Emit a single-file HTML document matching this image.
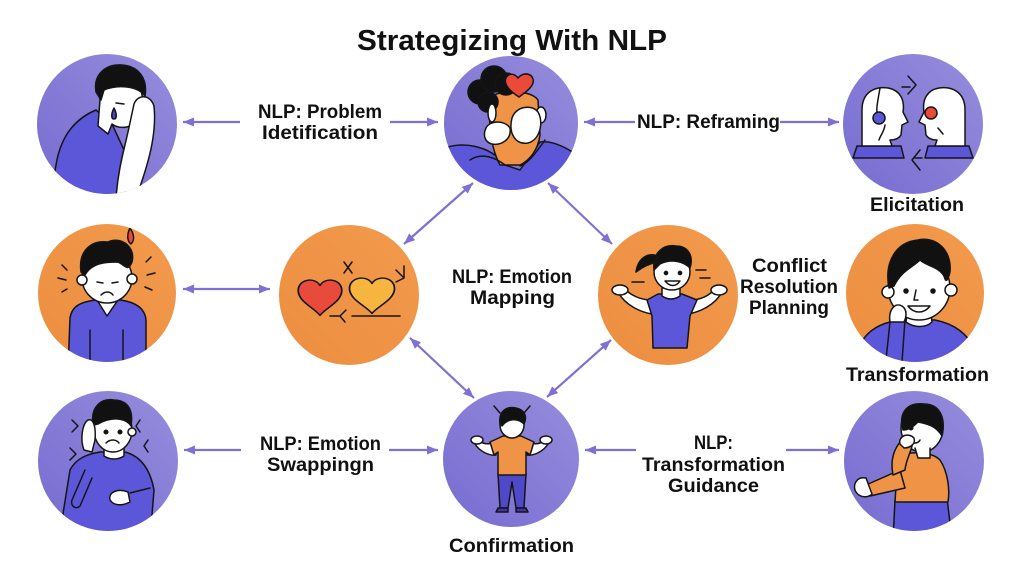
<!DOCTYPE html>
<html><head><meta charset="utf-8"><style>
html,body{margin:0;padding:0;background:#fff;}
svg{display:block}
text{font-family:"Liberation Sans",sans-serif;font-weight:bold;fill:#111;font-size:19px;}
.s path,.s ellipse,.s circle,.s rect,.s polyline,.s line{stroke:#151515;stroke-width:1.5;stroke-linejoin:round;stroke-linecap:round}
.ar{stroke:#7f71d4;stroke-width:2.2;fill:none}
</style></head><body>
<svg width="1024" height="576" viewBox="0 0 1024 576" xmlns="http://www.w3.org/2000/svg">
<defs>
<linearGradient id="pg" x1="1" y1="0" x2="0" y2="1"><stop offset="0" stop-color="#968ddd"/><stop offset="1" stop-color="#776cd0"/></linearGradient>
<linearGradient id="og" x1="1" y1="0" x2="0" y2="1"><stop offset="0" stop-color="#f29a4d"/><stop offset="1" stop-color="#ec8e40"/></linearGradient>
<marker id="ah" markerUnits="userSpaceOnUse" markerWidth="12" markerHeight="10" refX="11" refY="5" orient="auto-start-reverse"><path d="M0,0.5 L11,5 L0,9.5 Z" fill="#7f71d4"/></marker>
<clipPath id="c1"><circle cx="107" cy="124" r="70"/></clipPath>
<clipPath id="c2"><circle cx="511" cy="123" r="67"/></clipPath>
<clipPath id="c3"><circle cx="913" cy="124" r="70"/></clipPath>
<clipPath id="c4"><circle cx="107" cy="293" r="69"/></clipPath>
<clipPath id="c6"><circle cx="668" cy="295" r="70"/></clipPath>
<clipPath id="c7"><circle cx="915" cy="293" r="69"/></clipPath>
<clipPath id="c8"><circle cx="108" cy="461" r="70"/></clipPath>
<clipPath id="c9"><circle cx="511" cy="459" r="68"/></clipPath>
<clipPath id="c10"><circle cx="914" cy="461" r="70"/></clipPath>
</defs>

<!-- Title -->
<text x="357" y="50" style="font-size:29px" textLength="310" lengthAdjust="spacingAndGlyphs">Strategizing With NLP</text>

<!-- Circles -->
<circle cx="107" cy="124" r="70" fill="url(#pg)"/>
<circle cx="511" cy="123" r="67" fill="url(#pg)"/>
<circle cx="913" cy="124" r="70" fill="url(#pg)"/>
<circle cx="107" cy="293" r="69" fill="url(#og)"/>
<circle cx="349" cy="295" r="70" fill="url(#og)"/>
<circle cx="668" cy="295" r="70" fill="url(#og)"/>
<circle cx="915" cy="293" r="69" fill="url(#og)"/>
<circle cx="108" cy="461" r="70" fill="url(#pg)"/>
<circle cx="511" cy="459" r="68" fill="url(#pg)"/>
<circle cx="914" cy="461" r="70" fill="url(#pg)"/>

<!-- Arrows -->
<line class="ar" x1="240" y1="122" x2="183" y2="122" marker-end="url(#ah)"/>
<line class="ar" x1="390" y1="122" x2="438" y2="122" marker-end="url(#ah)"/>
<line class="ar" x1="635" y1="122" x2="584" y2="122" marker-end="url(#ah)"/>
<line class="ar" x1="780" y1="122" x2="839" y2="122" marker-end="url(#ah)"/>
<line class="ar" x1="404" y1="244" x2="473" y2="183" marker-start="url(#ah)" marker-end="url(#ah)"/>
<line class="ar" x1="548" y1="183" x2="612" y2="244" marker-start="url(#ah)" marker-end="url(#ah)"/>
<line class="ar" x1="410" y1="338" x2="474" y2="398" marker-start="url(#ah)" marker-end="url(#ah)"/>
<line class="ar" x1="611" y1="340" x2="547" y2="397" marker-start="url(#ah)" marker-end="url(#ah)"/>
<line class="ar" x1="183" y1="289" x2="270" y2="289" marker-start="url(#ah)" marker-end="url(#ah)"/>
<line class="ar" x1="241" y1="450" x2="184" y2="450" marker-end="url(#ah)"/>
<line class="ar" x1="389" y1="450" x2="438" y2="450" marker-end="url(#ah)"/>
<line class="ar" x1="636" y1="450" x2="585" y2="450" marker-end="url(#ah)"/>
<line class="ar" x1="786" y1="450" x2="839" y2="450" marker-end="url(#ah)"/>

<!-- Labels -->
<text x="258" y="118" textLength="124" lengthAdjust="spacingAndGlyphs">NLP: Problem</text>
<text x="262" y="139" textLength="116" lengthAdjust="spacingAndGlyphs">Idetification</text>
<text x="637" y="128" textLength="143" lengthAdjust="spacingAndGlyphs">NLP: Reframing</text>
<text x="870" y="211" textLength="94" lengthAdjust="spacingAndGlyphs">Elicitation</text>
<text x="452" y="283" textLength="120" lengthAdjust="spacingAndGlyphs">NLP: Emotion</text>
<text x="470" y="304" textLength="85" lengthAdjust="spacingAndGlyphs">Mapping</text>
<text x="752" y="272" textLength="75" lengthAdjust="spacingAndGlyphs">Conflict</text>
<text x="740" y="293" textLength="98" lengthAdjust="spacingAndGlyphs">Resolution</text>
<text x="749" y="314" textLength="80" lengthAdjust="spacingAndGlyphs">Planning</text>
<text x="846" y="381" textLength="143" lengthAdjust="spacingAndGlyphs">Transformation</text>
<text x="260" y="450" textLength="121" lengthAdjust="spacingAndGlyphs">NLP: Emotion</text>
<text x="267" y="471" textLength="107" lengthAdjust="spacingAndGlyphs">Swappingn</text>
<text x="449" y="552" textLength="125" lengthAdjust="spacingAndGlyphs">Confirmation</text>
<text x="694" y="449" textLength="39" lengthAdjust="spacingAndGlyphs">NLP:</text>
<text x="642" y="471" textLength="143" lengthAdjust="spacingAndGlyphs">Transformation</text>
<text x="668" y="492" textLength="91" lengthAdjust="spacingAndGlyphs">Guidance</text>

<!-- Fig 1: top-left sad person -->
<g clip-path="url(#c1)" class="s">
<path d="M50,200 L56,165 C60,140 72,120 96,110 L112,124 L124,150 L126,200 Z" fill="#5c56d8"/>
<path d="M100,100 C98,86 108,78 122,78 C136,78 144,88 142,104 L140,118 C134,128 120,130 112,124 L108,134 L98,126 Z" fill="#fff"/>
<path d="M96,92 C93,74 106,64 122,65 C138,66 148,78 145,96 C138,86 118,84 104,90 L101,100 Z" fill="#111"/>
<path d="M116,198 C118,170 124,150 128,132 L134,104 C138,94 150,94 154,106 C157,135 148,165 136,198 Z" fill="#fff"/>
<path d="M114,108 C111,114 111,119 114,119 C117,119 117,114 114,108 Z" fill="#4a42c8" stroke="none"/>
<path d="M116,103 L124,104" fill="none"/>
</g>

<!-- Fig 2: top-center -->
<g clip-path="url(#c2)" class="s">
<path d="M440,150 C460,140 490,145 505,165 L520,170 L540,142 C555,140 570,150 585,160 L585,200 L440,200 Z" fill="#5c56d8" stroke="none"/>
<path d="M490,100 C490,90 530,88 538,100 L540,135 C538,150 530,160 520,165 L500,165 C492,150 488,130 490,100 Z" fill="#ef9446"/>
<path d="M470,160 C482,152 496,158 505,165 M520,166 C528,164 538,150 545,140" fill="none"/>
<circle cx="480" cy="92" r="12" fill="#111" stroke="none"/>
<circle cx="494" cy="79" r="13" fill="#111" stroke="none"/>
<circle cx="488" cy="102" r="10" fill="#111" stroke="none"/>
<circle cx="506" cy="84" r="11" fill="#111" stroke="none"/>
<ellipse cx="492" cy="113" rx="4" ry="9" fill="#fff"/>
<ellipse cx="541" cy="115" rx="5" ry="8" fill="#fff"/>
<path d="M486,128 C490,120 505,120 510,128 C512,140 500,146 492,144 C484,142 483,134 486,128 Z" fill="#fff"/>
<path d="M512,118 C516,106 532,104 538,112 C544,122 540,140 528,143 C516,145 508,134 512,118 Z" fill="#fff"/>
<path d="M518,78 C512,70 503,76 506,84 C508,90 516,95 519,97 C523,94 531,89 533,83 C535,75 525,70 518,78 Z" fill="#ea4a3a" stroke="none"/>
</g>

<!-- Fig 3: Elicitation -->
<g clip-path="url(#c3)" class="s">
<path d="M853,158 L857,146 L901,146 L904,158 Z" fill="#5c56d8"/>
<path d="M925,158 L928,146 L969,146 L973,158 Z" fill="#5c56d8"/>
<path d="M862,146 L862,110 C862,92 875,86 888,88 C900,90 905,100 903,112 L908,122 L902,125 L901,135 C898,140 892,140 890,140 L892,146 Z" fill="#fff"/>
<path d="M965,146 L965,110 C965,92 952,86 939,88 C927,90 922,100 924,112 L919,122 L925,125 L926,135 C929,140 935,140 937,140 L935,146 Z" fill="#fff"/>
<circle cx="879" cy="118" r="6" fill="#5c56d8"/>
<path d="M880,88 C878,100 876,108 877,112 M885,125 C884,132 880,136 879,140" fill="none"/>
<circle cx="931" cy="113" r="6" fill="#ea4a3a"/>
<path d="M938,128 L943,134" fill="none"/>
<polyline points="908,76 916,85 908,94" fill="none"/>
<line x1="902" y1="87" x2="910" y2="87"/>
<polyline points="920,150 912,160 920,170" fill="none"/>
<line x1="915" y1="158" x2="922" y2="158"/>
</g>

<!-- Fig 4: mid-left -->
<g clip-path="url(#c4)" class="s">
<path d="M68,370 L70,318 C72,305 82,302 95,300 L120,300 C135,302 145,308 146,320 L146,370 Z" fill="#5c56d8"/>
<path d="M97,300 L107,316 L118,300 Z" fill="#fff"/>
<line x1="90" y1="330" x2="90" y2="365"/>
<line x1="123" y1="330" x2="123" y2="365"/>
<ellipse cx="107" cy="278" rx="25" ry="25" fill="#fff"/>
<circle cx="82" cy="280" r="5" fill="#fff"/>
<circle cx="132" cy="279" r="5" fill="#fff"/>
<path d="M81,272 C78,250 92,240 108,242 C120,236 136,246 132,262 C128,272 126,266 118,262 C108,262 92,262 85,275 Z" fill="#111"/>
<path d="M97,282 L103,283 M112,283 L118,282 M101,295 C105,291 110,291 113,295" fill="none"/>
<path d="M130,228 C126,236 128,242 131,244 C135,240 134,234 130,228 Z" fill="#e84a3a" stroke="none"/>
<g stroke="#fff" stroke-width="2"><line x1="62" y1="265" x2="67" y2="270"/><line x1="58" y1="278" x2="66" y2="280"/><line x1="62" y1="292" x2="67" y2="289"/><line x1="146" y1="262" x2="151" y2="257"/><line x1="147" y1="275" x2="155" y2="273"/><line x1="145" y1="287" x2="152" y2="290"/></g>
</g>

<!-- Fig 5: hearts -->
<g class="s">
<path transform="translate(320,292) scale(1.55,1.3)" d="M0,-5 C-3,-12 -15,-10 -14,0 C-13,8 -4,12 0,18 C4,12 13,8 14,0 C15,-10 3,-12 0,-5 Z" fill="#e84b3b" style="stroke-width:1.1"/>
<path transform="translate(372,290) scale(1.6,1.3)" d="M0,-5 C-3,-12 -15,-10 -14,0 C-13,8 -4,12 0,18 C4,12 13,8 14,0 C15,-10 3,-12 0,-5 Z" fill="#f7b43f" style="stroke-width:1.1"/>
<line x1="352" y1="316" x2="400" y2="316"/>
<path d="M330,316 L340,316 M346,310 L340,316 L345,322" fill="none"/>
<path d="M344,262 L352,273 M352,262 L344,273" fill="none"/>
<path d="M396,270 L404,278 M404,266 L404,278 M396,282 L404,278" fill="none"/>
</g>

<!-- Fig 6: girl -->
<g clip-path="url(#c6)" class="s">
<path d="M652,300 C640,300 630,295 624,288 L618,292 C625,305 640,312 652,314 Z" fill="#fff"/>
<path d="M690,300 C702,300 710,295 716,288 L722,292 C715,305 700,312 688,314 Z" fill="#fff"/>
<ellipse cx="620" cy="290" rx="8" ry="5" fill="#fff"/>
<ellipse cx="719" cy="290" rx="8" ry="5" fill="#fff"/>
<path d="M647,300 L658,294 L682,294 L697,300 L690,316 L687,348 L653,348 L652,316 Z" fill="#5c56d8"/>
<path d="M662,288 L662,296 C668,300 674,300 680,296 L680,288 Z" fill="#fff"/>
<ellipse cx="672" cy="272" rx="18" ry="18" fill="#fff"/>
<path d="M654,270 C652,252 664,244 676,246 C688,246 694,256 690,268 C684,262 672,258 660,264 Z" fill="#111"/>
<path d="M658,256 C648,252 638,258 636,272 C644,266 650,264 656,262 Z" fill="#111"/>
<circle cx="666" cy="273" r="1.6" fill="#111" stroke="none"/>
<circle cx="680" cy="273" r="1.6" fill="#111" stroke="none"/>
<path d="M665,281 C670,287 676,287 680,281 Z" fill="#fff"/>
<path d="M632,282 L644,282 M696,270 L706,270 M700,278 L710,278" fill="none"/>
</g>

<!-- Fig 7: mid-right -->
<g clip-path="url(#c7)" class="s">
<path d="M855,370 L860,345 C868,328 885,322 900,320 L935,320 C955,324 968,334 975,350 L980,370 Z" fill="#5c56d8"/>
<path d="M908,305 L906,322 C914,328 926,328 932,322 L930,305 Z" fill="#fff"/>
<ellipse cx="919" cy="288" rx="31" ry="32" fill="#fff"/>
<circle cx="888" cy="292" r="6" fill="#fff"/>
<circle cx="951" cy="290" r="6" fill="#fff"/>
<path d="M889,288 C884,262 896,242 918,240 C936,236 952,250 950,272 C948,280 946,284 944,276 C938,266 926,266 920,260 C912,268 902,270 894,286 Z" fill="#111"/>
<circle cx="906" cy="291" r="2" fill="#111" stroke="none"/>
<circle cx="933" cy="291" r="2" fill="#111" stroke="none"/>
<path d="M916,290 L914,300 L918,300" fill="none"/>
<path d="M908,306 C914,314 924,314 930,306 Z" fill="#fff"/>
<path d="M886,360 L890,322 L905,320 L902,362 Z" fill="#5c56d8"/>
<path d="M890,322 C888,310 895,302 902,306 C908,310 906,318 904,322 Z" fill="#fff"/>
</g>

<!-- Fig 8: bottom-left -->
<g clip-path="url(#c8)" class="s">
<path d="M62,520 L70,470 C76,458 88,454 100,452 L125,452 C140,456 150,468 154,490 L150,540 L70,540 Z" fill="#5c56d8"/>
<path d="M85,470 L72,500 C70,506 76,510 80,506 L92,478" fill="#5c56d8"/>
<path d="M104,446 L104,456 C110,460 118,460 124,456 L124,446 Z" fill="#fff"/>
<ellipse cx="113" cy="430" rx="19" ry="22" fill="#fff"/>
<circle cx="132" cy="432" r="4" fill="#fff"/>
<path d="M93,425 C90,406 102,398 114,400 C126,400 134,408 131,426 C126,418 112,416 98,424 Z" fill="#111"/>
<circle cx="106" cy="432" r="1.8" fill="#111" stroke="none"/>
<circle cx="120" cy="432" r="1.8" fill="#111" stroke="none"/>
<path d="M106,443 C110,439 116,439 119,443" fill="none"/>
<path d="M84,450 C80,440 82,424 88,420 C94,418 96,428 95,440 L92,452 Z" fill="#fff"/>
<path d="M110,500 C108,492 118,488 128,492 L130,502 C122,506 114,506 110,500 Z" fill="#fff"/>
<line x1="130" y1="493" x2="150" y2="488"/>
<path d="M72,420 L78,426 L72,432 M70,448 L76,454 L70,460 M140,420 L136,426 L140,432 M148,440 L144,446 L148,452" fill="none"/>
</g>

<!-- Fig 9: bottom-center -->
<g clip-path="url(#c9)" class="s">
<path d="M495,442 C488,445 482,444 479,440 L475,444 C480,452 490,456 496,455 Z" fill="#fff"/>
<path d="M528,442 C535,445 541,444 544,440 L548,444 C543,452 533,456 527,455 Z" fill="#fff"/>
<ellipse cx="477" cy="440" rx="6" ry="4" fill="#fff"/>
<ellipse cx="546" cy="440" rx="6" ry="4" fill="#fff"/>
<path d="M498,474 L526,474 L524,508 L516,508 L512,482 L508,508 L500,508 Z" fill="#4f48c8"/>
<path d="M498,508 L508,508 L508,512 L496,512 Z M516,508 L526,508 L528,512 L516,512 Z" fill="#3a35a8"/>
<path d="M490,442 L503,436 L521,436 L534,442 L530,455 L526,452 L526,475 L498,475 L498,452 L494,455 Z" fill="#ef9446"/>
<ellipse cx="512" cy="425" rx="12" ry="13" fill="#fff"/>
<path d="M500,424 C498,410 508,406 516,408 C526,410 527,418 524,424 C518,418 508,418 502,426 Z" fill="#111"/>
<path d="M494,406 L500,413 M530,406 L524,413" fill="none"/>
</g>

<!-- Fig 10: bottom-right -->
<g clip-path="url(#c10)" class="s">
<path d="M895,500 L947,498 L952,540 L893,540 Z" fill="#5c56d8"/>
<path d="M898,456 C908,452 930,450 940,460 C948,472 950,490 948,502 L895,502 Z" fill="#ef9446"/>
<path d="M900,470 L866,485 L870,496 L905,488 Z" fill="#ef9446"/>
<path d="M866,478 C856,476 852,486 856,492 C860,498 868,498 872,494 Z" fill="#fff"/>
<ellipse cx="922" cy="428" rx="21" ry="24" fill="#fff"/>
<path d="M903,430 C898,412 908,402 924,404 C940,404 946,418 942,436 C936,426 928,424 918,422 C912,428 908,430 903,430 Z" fill="#111"/>
<circle cx="911" cy="428" r="1.8" fill="#111" stroke="none"/>
<path d="M908,440 C912,444 918,444 920,440" fill="none"/>
<path d="M915,448 L918,458 L930,458 L930,448" fill="#fff"/>
<path d="M893,475 C890,460 894,448 902,440 L912,440 C914,448 906,458 905,470 Z" fill="#ef9446"/>
<path d="M900,444 C898,436 908,432 914,438 C916,444 910,448 904,448 Z" fill="#fff"/>
</g>
</svg>
</body></html>
